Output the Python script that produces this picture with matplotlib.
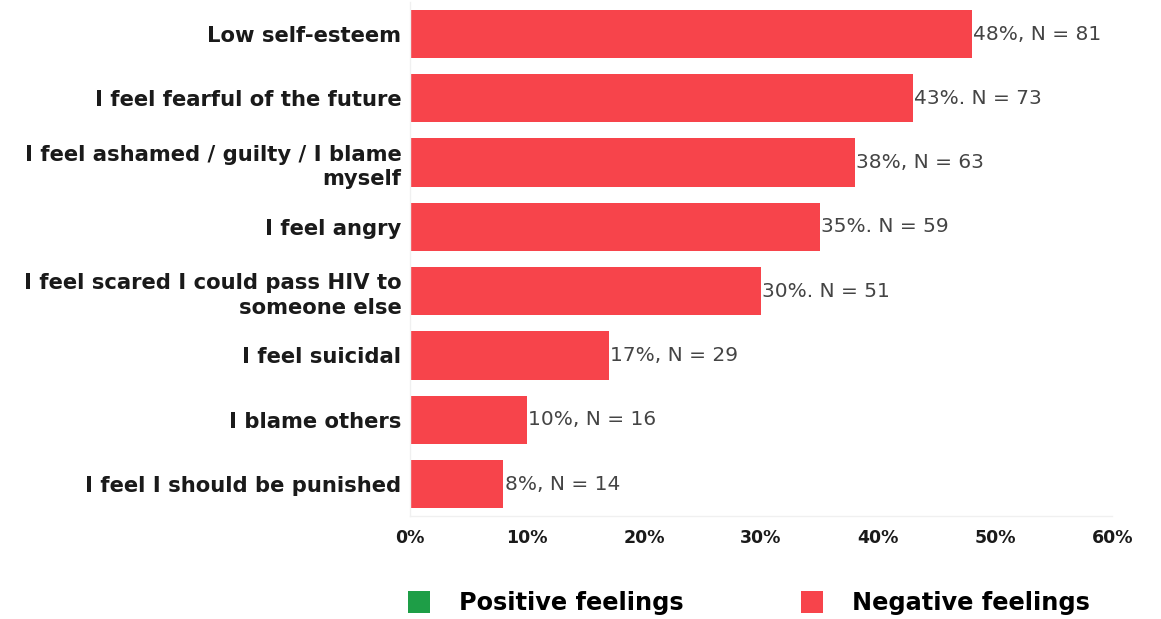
import matplotlib
matplotlib.use("Agg")
import matplotlib.pyplot as plt
from matplotlib.patches import Patch

# Survey responses: share and count of respondents per feeling
categories = [
    "Low self-esteem",
    "I feel fearful of the future",
    "I feel ashamed / guilty / I blame\nmyself",
    "I feel angry",
    "I feel scared I could pass HIV to\nsomeone else",
    "I feel suicidal",
    "I blame others",
    "I feel I should be punished",
]
percent = [48, 43, 38, 35, 30, 17, 10, 8]
counts = [81, 73, 63, 59, 51, 29, 16, 14]
separators = [",", ".", ",", ".", ".", ",", ",", ","]
xticks = [0, 10, 20, 30, 40, 50, 60]
xtick_labels = ["0%", "10%", "20%", "30%", "40%", "50%", "60%"]
legend_labels = ["Positive feelings", "Negative feelings"]

RED = "#F7444B"
GREEN = "#1E9E47"
TEXT = "#1a1a1a"

plt.rcParams["font.family"] = ["DejaVu Sans"]

fig = plt.figure(figsize=(11.61, 6.19), dpi=100)
ax = fig.add_axes([0.353, 0.166, 0.605, 0.831])

y = list(range(len(categories)))
ax.barh(y, percent, height=0.75, color=RED)
ax.set_ylim(len(categories) - 0.5, -0.5)
ax.set_xlim(0, 60)

for yi, p, n, sep in zip(y, percent, counts, separators):
    ax.text(p + 0.1, yi, f"{p}%{sep} N = {n}", va="center", ha="left",
            fontsize=14.5, color="#444444")

ax.set_yticks(y)
ax.set_yticklabels(categories, fontsize=15.2, fontweight="bold", color=TEXT,
                   linespacing=1.3)
ax.set_xticks(xticks)
ax.set_xticklabels(xtick_labels, fontsize=12.5, fontweight="bold", color=TEXT)
ax.tick_params(axis="both", length=0)
ax.tick_params(axis="x", pad=9)
ax.tick_params(axis="y", pad=6)

for side in ["top", "right"]:
    ax.spines[side].set_visible(False)
for side in ["left", "bottom"]:
    ax.spines[side].set_color("#f0f0f0")
    ax.spines[side].set_linewidth(1)

handles = [Patch(facecolor=GREEN, edgecolor="none"),
           Patch(facecolor=RED, edgecolor="none")]
fig.legend(handles, legend_labels, loc="center", bbox_to_anchor=(0.645, 0.026),
           ncol=2, frameon=False, handlelength=0.9, handleheight=1.05,
           handletextpad=1.2, columnspacing=4.9,
           prop={"size": 17.3, "weight": "bold"})

fig.savefig("out.png", dpi=100, facecolor="white")
